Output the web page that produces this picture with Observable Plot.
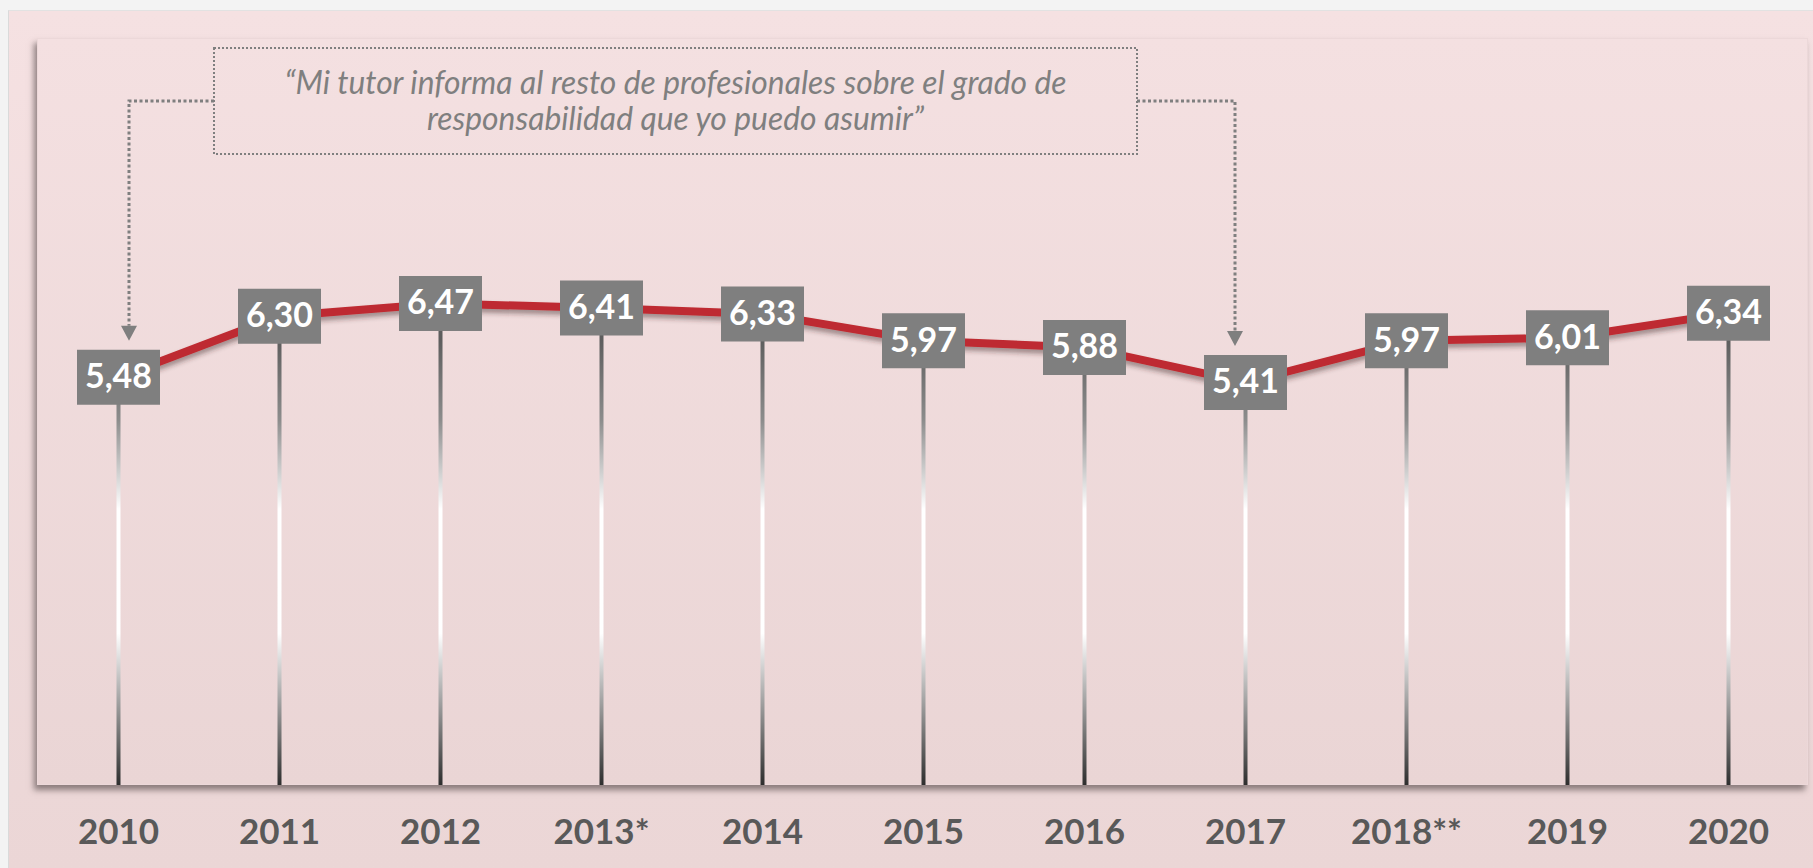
<!DOCTYPE html>
<html><head><meta charset="utf-8">
<script src="https://cdn.jsdelivr.net/npm/d3@7"></script>
<script src="https://cdn.jsdelivr.net/npm/@observablehq/plot@0.6"></script>
<style>
body{margin:0;background:#f3f3f3;}
#wrap{position:relative;width:1813px;height:868px;overflow:hidden;}
#panel{position:absolute;left:8px;top:10px;width:1805px;height:858px;background:linear-gradient(#f5e1e2,#ebd6d6);border-left:1px solid #dadada;border-top:1px solid #e2e2e2;box-sizing:border-box}
#area{position:absolute;left:37px;top:38px;width:1771px;height:747px;background:linear-gradient(#f4e0e1,#ead5d5);box-shadow:-3px 5px 6px rgba(60,50,50,.55);border:1px solid #ecd8d9;box-sizing:border-box}
#chart{position:absolute;left:0;top:0}
</style></head><body>
<div id="wrap"><div id="panel"></div><div id="area"></div><div id="chart"></div></div>
<script>
const years = ["2010","2011","2012","2013*","2014","2015","2016","2017","2018**","2019","2020"];
const values = [5.48,6.30,6.47,6.41,6.33,5.97,5.88,5.41,5.97,6.01,6.34];
const annotationLines = ["\u201CMi tutor informa al resto de profesionales sobre el grado de", "responsabilidad que yo puedo asumir\u201D"];
const annotationTargets = ["2010","2017"];

const data = years.map((year,i)=>({year, value: values[i]}));
const fmt = v => v.toFixed(2).replace(".", ",");
const box = {draw(ctx){ ctx.rect(-41.5,-27.5,83,55); }};

const plot = Plot.plot({
  width:1813, height:868, marginLeft:118, marginRight:85, marginTop:40, marginBottom:83,
  style:{background:"transparent", fontFamily:"Lato, sans-serif", overflow:"visible"},
  x:{type:"point", domain:years, padding:0},
  y:{domain:[0,10], axis:null},
  marks:[
    Plot.ruleX(data,{x:"year", y1:0, y2:"value", stroke:"url(#dropGrad)", strokeWidth:4}),
    Plot.line(data,{x:"year", y:"value", stroke:"#be2a30", strokeWidth:8, strokeLinejoin:"round"}),
    Plot.dot(data,{x:"year", y:"value", symbol:box, fill:"#7f7f7f", stroke:null}),
    Plot.text(data,{x:"year", y:"value", text:d=>fmt(d.value), fill:"white", fontSize:34, fontWeight:"bold"}),
    Plot.axisX({tickSize:0, tickPadding:34, fontSize:35, fontWeight:"bold", fill:"#595959", label:null})
  ]
});
document.getElementById("chart").appendChild(plot);

const svg = d3.select(plot);
const defs = svg.insert("defs", ":first-child");
const grad = defs.append("linearGradient").attr("id","dropGrad").attr("gradientUnits","userSpaceOnUse")
  .attr("x1",0).attr("x2",0).attr("y1",340).attr("y2",785);
[[0,"#5e5e5e"],[0.18,"#8c8c8c"],[0.38,"#ffffff"],[0.66,"#ffffff"],[1,"#2e2e2e"]].forEach(([o,c])=>
  grad.append("stop").attr("offset",o).attr("stop-color",c));
const f = defs.append("filter").attr("id","shadow").attr("x","-5%").attr("y","-30%").attr("width","110%").attr("height","180%");
f.append("feDropShadow").attr("dx",0).attr("dy",4).attr("stdDeviation",2.5).attr("flood-color","#3a2020").attr("flood-opacity",0.45);
svg.selectAll("g[aria-label=line]").attr("filter","url(#shadow)");

// annotation
const X = plot.scale("x"), Y = plot.scale("y");
const bx0 = 214, bx1 = 1137, by0 = 48, by1 = 154, cy = 101;
const ann = svg.append("g").attr("fill","none").attr("stroke","#7f7f7f");
ann.append("rect").attr("x",bx0).attr("y",by0).attr("width",bx1-bx0).attr("height",by1-by0)
  .attr("stroke-width",2).attr("stroke-dasharray","2,2");
const targets = annotationTargets.map((t,i)=>{
  const v = values[years.indexOf(t)];
  return {x: X.apply(t) + (i===0 ? 11 : -10), tip: Y.apply(v) - 27 - 9, side: i===0 ? bx0 : bx1};
});
targets.forEach(t=>{
  ann.append("path").attr("d",`M${t.side},${cy}H${t.x}V${t.tip-15}`).attr("stroke-width",3).attr("stroke-dasharray","3,2.5");
  svg.append("path").attr("d",`M${t.x-8},${t.tip-15}L${t.x+8},${t.tip-15}L${t.x},${t.tip}Z`).attr("fill","#7f7f7f");
});
const txt = svg.append("g").attr("fill","#7f7f7f").attr("font-style","italic").attr("font-size",32)
  .attr("font-family","Lato, sans-serif").attr("text-anchor","middle");
const lens = [782, 497], bases = [94, 130];
annotationLines.forEach((s,i)=>{
  txt.append("text").attr("x",(bx0+bx1)/2).attr("y",bases[i]).attr("textLength",lens[i])
    .attr("lengthAdjust","spacingAndGlyphs").text(s);
});
</script>
</body></html>
